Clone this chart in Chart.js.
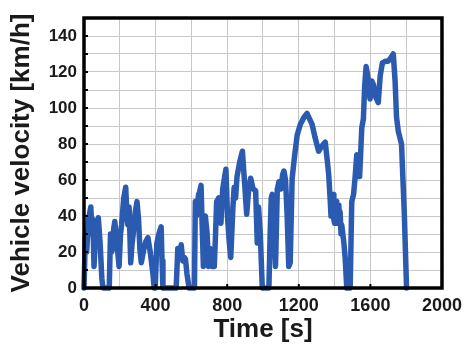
<!DOCTYPE html>
<html>
<head>
<meta charset="utf-8">
<script src="https://cdn.jsdelivr.net/npm/chart.js@4.4.1/dist/chart.umd.min.js"></script>
<style>
    html, body { margin: 0; padding: 0; background: #fff; }
    #wrap { width: 469px; height: 345px; }
</style>
</head>
<body>
<div id="wrap"><canvas id="grafico" width="469" height="345"></canvas></div>
<script>
// Tempo (s) e velocidade (km/h) do ciclo
const tempo = [
    0, 8, 15, 25, 38, 45, 50, 56, 62, 68, 80, 90, 100, 106, 141, 148, 154, 160, 166, 172, 184, 196, 204, 210, 222, 233,
    240, 245, 252, 261, 268, 275, 286, 296, 305, 312, 320, 335, 346, 357, 370, 385, 392, 398, 407, 418, 431, 436, 441, 515,
    524, 534, 543, 552, 561, 567, 575, 587, 617, 622, 628, 634, 640, 645, 654, 660, 667, 678, 688, 696, 704, 710, 715,
    728, 735, 741, 752, 758, 765, 775, 786, 793, 802, 812, 820, 832, 839, 847, 855, 870, 885, 896, 909, 920, 931, 945,
    959, 968, 975, 985, 996, 1033, 1040, 1046, 1052, 1062, 1070, 1080, 1089, 1100, 1110, 1117, 1126, 1135, 1144, 1152,
    1163, 1175, 1191, 1209, 1230, 1246, 1260, 1274, 1290, 1311, 1330, 1348, 1360, 1367, 1375, 1380, 1385, 1392, 1396, 1400, 1404, 1408, 1412, 1416,
    1420, 1424, 1431, 1436, 1440, 1452, 1459, 1468, 1487, 1496, 1506, 1515, 1524, 1532, 1540, 1552, 1561, 1568, 1576, 1585, 1598, 1608,
    1617, 1630, 1644, 1655, 1667, 1685, 1700, 1715, 1728, 1738, 1746, 1756, 1774, 1790, 1802
];
const velocidade = [
    0, 30, 20, 38, 45, 30, 38, 12, 25, 30, 39, 25, 5, 0, 0, 30, 20, 22, 33, 37, 25, 12, 30, 35, 50, 56,
    40, 35, 45, 14, 24, 30, 42, 48, 38, 22, 14, 22, 26, 28, 20, 8, 0, 0, 25, 30, 34, 15, 0, 0,
    22, 18, 24, 15, 17, 16, 8, 0, 0, 48, 40, 45, 52, 53, 57, 35, 12, 40, 30, 12, 22, 20, 12,
    12, 30, 48, 50, 40, 36, 55, 62, 66, 39, 25, 17, 45, 56, 50, 62, 70, 76, 60, 41, 55, 61, 55,
    54, 25, 45, 30, 0, 0, 30, 50, 52, 30, 12, 55, 59, 55, 63, 65, 60, 40, 12, 14,
    61, 72, 85, 91, 95, 97, 94, 91, 84, 76, 79, 81, 70, 63, 50, 40, 44, 52, 38, 36, 47, 48, 36, 38,
    46, 44, 42, 30, 35, 25, 17, 0, 0, 48, 52, 62, 74, 62, 62, 89, 94, 112, 123, 118, 105, 115,
    113, 106, 103, 118, 125, 126, 126, 128, 130, 115, 95, 87, 80, 40, 0
];

// Eixos
const eixoX = { min: 0, max: 2000, passo: 200, rotulo: 400 };
const eixoY = { min: 0, max: 150, passo: 10, rotulo: 20 };

const pontos = tempo.map((t, i) => ({ x: t, y: velocidade[i] }));

// Moldura preta grossa + marcas internas nos eixos
const moldura = {
    id: 'moldura',
    afterDraw(chart) {
        const { ctx, chartArea: a, scales } = chart;
        ctx.save();
        ctx.strokeStyle = '#000';
        ctx.lineWidth = 2;
        for (let v = eixoY.passo; v < eixoY.max; v += eixoY.passo) {
            const y = scales.y.getPixelForValue(v);
            ctx.beginPath();
            ctx.moveTo(a.left, y);
            ctx.lineTo(a.left + 4, y);
            ctx.stroke();
        }
        for (let v = eixoX.rotulo; v < eixoX.max; v += eixoX.rotulo) {
            const x = scales.x.getPixelForValue(v);
            ctx.beginPath();
            ctx.moveTo(x, a.bottom);
            ctx.lineTo(x, a.bottom - 4);
            ctx.stroke();
        }
        ctx.lineWidth = 3.5;
        ctx.strokeRect(a.left, a.top, a.right - a.left, a.bottom - a.top);
        ctx.restore();
    }
};

const fonteTick = { family: "'Liberation Sans', Arial, sans-serif", weight: 'bold' };

new Chart(document.getElementById('grafico'), {
    type: 'line',
    data: {
        datasets: [{
            data: pontos,
            borderColor: '#2a5bb0',
            borderWidth: 5.5,
            pointRadius: 0,
            tension: 0,
            borderJoinStyle: 'round',
            borderCapStyle: 'round',
            clip: false
        }]
    },
    options: {
        responsive: false,
        animation: false,
        layout: { padding: { top: 18, right: 25, left: 0, bottom: 0 } },
        plugins: { legend: { display: false }, tooltip: { enabled: false } },
        scales: {
            x: {
                type: 'linear',
                min: eixoX.min,
                max: eixoX.max,
                afterFit: s => { s.height = 57; },
                grid: { color: '#c8c8c8', lineWidth: 1, drawTicks: false },
                border: { display: false },
                ticks: {
                    stepSize: eixoX.passo,
                    padding: 7,
                    color: '#1a1a1a',
                    font: { ...fonteTick, size: 18 },
                    maxRotation: 0,
                    autoSkip: false,
                    callback: v => (v % eixoX.rotulo === 0 ? v : '')
                },
                title: {
                    display: true,
                    text: 'Time [s]',
                    color: '#1a1a1a',
                    font: { ...fonteTick, size: 26 },
                    padding: { top: 0, bottom: 0 }
                }
            },
            y: {
                min: eixoY.min,
                max: eixoY.max,
                afterFit: s => { s.width = 84; },
                grid: { color: '#c8c8c8', lineWidth: 1, drawTicks: false },
                border: { display: false },
                ticks: {
                    stepSize: eixoY.passo,
                    padding: 7,
                    color: '#1a1a1a',
                    font: { ...fonteTick, size: 17 },
                    autoSkip: false,
                    callback: v => (v % eixoY.rotulo === 0 && v < eixoY.max ? v : '')
                },
                title: {
                    display: true,
                    text: 'Vehicle velocity [km/h]',
                    color: '#1a1a1a',
                    font: { ...fonteTick, size: 26 },
                    padding: { top: 6, bottom: 0 }
                }
            }
        }
    },
    plugins: [moldura]
});
</script>
</body>
</html>
